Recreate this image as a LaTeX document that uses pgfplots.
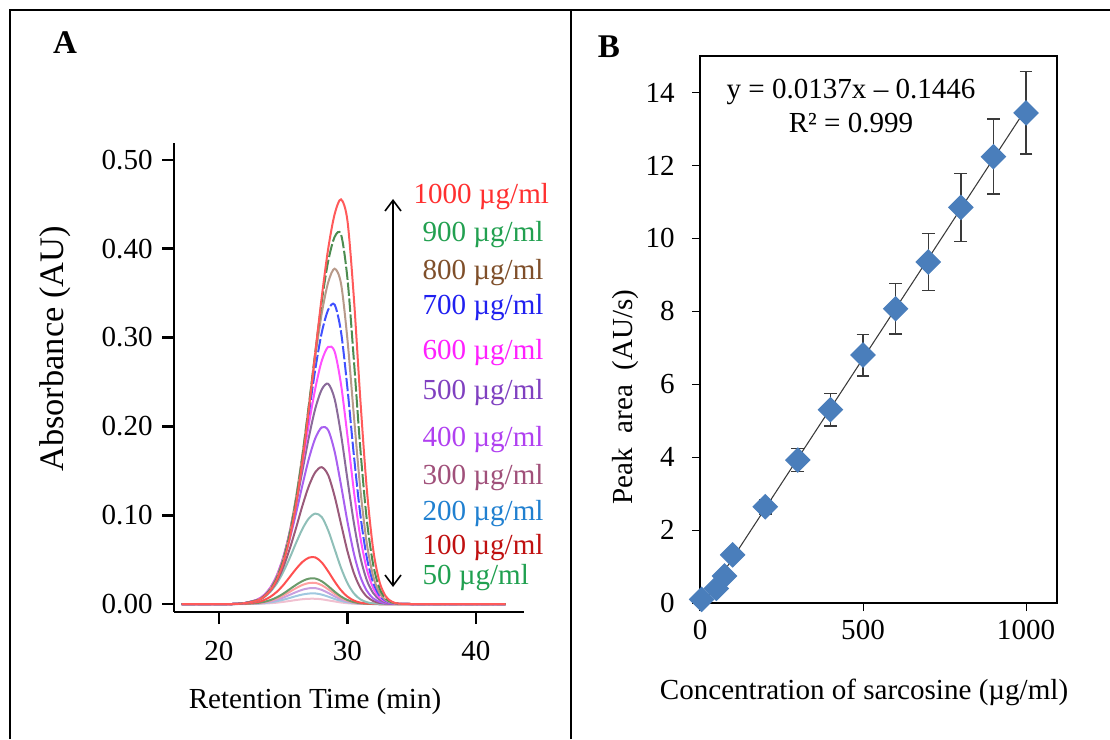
\documentclass[border=0pt]{standalone}
\usepackage{pgfplots}
\pgfplotsset{compat=1.18}
\usepackage{pgfplotstable}
\usepackage{fontspec}
\setmainfont{Liberation Serif}
\usetikzlibrary{arrows.meta}

\definecolor{cA}{HTML}{FF5A5A}
\definecolor{cB}{HTML}{4C8C50}
\definecolor{cC}{HTML}{B89A8A}
\definecolor{cD}{HTML}{4050FF}
\definecolor{cE}{HTML}{FF50FF}
\definecolor{cF}{HTML}{8A6A9A}
\definecolor{cG}{HTML}{A860F0}
\definecolor{cH}{HTML}{9A5A7A}
\definecolor{cI}{HTML}{8FBFB8}
\definecolor{cJ}{HTML}{FF5050}
\definecolor{cK}{HTML}{6A9A6A}
\definecolor{fA}{HTML}{FFA0A0}
\definecolor{fB}{HTML}{C8A0E0}
\definecolor{fC}{HTML}{A0C8E0}
\definecolor{fD}{HTML}{F0C0D0}
% label colours
\definecolor{l1000}{HTML}{FF3030}
\definecolor{l900}{HTML}{22A050}
\definecolor{l800}{HTML}{7F4F2A}
\definecolor{l700}{HTML}{2020F0}
\definecolor{l600}{HTML}{FF20FF}
\definecolor{l500}{HTML}{8040C0}
\definecolor{l400}{HTML}{B040F0}
\definecolor{l300}{HTML}{A0507A}
\definecolor{l200}{HTML}{2080D0}
\definecolor{l100}{HTML}{C01010}
\definecolor{l50}{HTML}{20A050}
\definecolor{diam}{HTML}{4A7EBB}
\definecolor{errgray}{HTML}{3A3A3A}

% chromatograms: retention time vs absorbance
\pgfplotstableread{
t    c1     c2     c3     c4     c5     c6     c7     c8     c9     c10    c11    f1     f2     f3     f4
17.1 0      0      0      0      0      0      0      0      0      0      0      0      0      0      0
19   0      0      0      0      0      0      0      0      0      0      0      0      0      0      0
21   0      0      0      0      0      0      0      0      0      0      0      0      0      0      0
22   0.0009 0.0010 0.0010 0.0010 0.0011 0.0011 0.0010 0.0009 0.0008 0.0004 0.0002 0.0002 0.0001 0.0001 0
23   0.0040 0.0044 0.0045 0.0044 0.0050 0.0050 0.0047 0.0040 0.0039 0.0022 0.0012 0.0010 0.0007 0.0005 0.0002
23.5 0.0082 0.0086 0.0090 0.0088 0.0099 0.0099 0.0094 0.0080 0.0076 0.0044 0.0024 0.0020 0.0015 0.0010 0.0005
24   0.0153 0.0163 0.0171 0.0168 0.0184 0.0184 0.0173 0.0149 0.0138 0.0081 0.0044 0.0037 0.0028 0.0018 0.0009
24.5 0.0274 0.0291 0.0305 0.0300 0.0320 0.0318 0.0300 0.0257 0.0232 0.0137 0.0075 0.0062 0.0047 0.0031 0.0015
25   0.0462 0.0490 0.0511 0.0504 0.0527 0.0519 0.0484 0.0413 0.0360 0.0212 0.0116 0.0096 0.0072 0.0048 0.0024
25.5 0.0739 0.0779 0.0809 0.0798 0.0809 0.0789 0.0728 0.0618 0.0516 0.0303 0.0166 0.0137 0.0103 0.0068 0.0034
26   0.1122 0.1173 0.1206 0.1180 0.1170 0.1126 0.1023 0.0857 0.0688 0.0395 0.0216 0.0179 0.0134 0.0089 0.0045
26.5 0.1614 0.1668 0.1690 0.1646 0.1589 0.1504 0.1341 0.1109 0.0847 0.0474 0.0259 0.0215 0.0161 0.0107 0.0054
27   0.2198 0.2242 0.2238 0.2153 0.2028 0.1880 0.1638 0.1330 0.0965 0.0522 0.0286 0.0236 0.0177 0.0118 0.0059
27.5 0.2832 0.2841 0.2790 0.2647 0.2430 0.2202 0.1867 0.1485 0.1018 0.0525 0.0287 0.0238 0.0179 0.0119 0.0059
28   0.3457 0.3406 0.3273 0.3056 0.2738 0.2415 0.1989 0.1540 0.0979 0.0468 0.0256 0.0212 0.0159 0.0106 0.0053
28.5 0.4000 0.3859 0.3621 0.3312 0.2895 0.2479 0.1957 0.1451 0.0829 0.0367 0.0201 0.0166 0.0125 0.0083 0.0041
29   0.4387 0.4132 0.3775 0.3370 0.2843 0.2309 0.1717 0.1213 0.0619 0.0254 0.0139 0.0115 0.0086 0.0057 0.0029
29.5 0.4555 0.4160 0.3606 0.3062 0.2471 0.1907 0.1338 0.0902 0.0406 0.0154 0.0084 0.0070 0.0052 0.0035 0.0017
30   0.4314 0.3662 0.2975 0.2427 0.1892 0.1401 0.0926 0.0594 0.0235 0.0083 0.0045 0.0038 0.0028 0.0019 0.0009
30.5 0.3443 0.2744 0.2117 0.1673 0.1272 0.0913 0.0569 0.0348 0.0119 0.0039 0.0021 0.0018 0.0013 0.0009 0.0004
31   0.2307 0.1751 0.1297 0.1007 0.0754 0.0528 0.0310 0.0182 0.0053 0.0016 0.0009 0.0007 0.0005 0.0004 0.0002
31.5 0.1304 0.0955 0.0688 0.0527 0.0394 0.0270 0.0150 0.0084 0.0021 0.0006 0.0003 0.0003 0.0002 0.0001 0.0001
32   0.0617 0.0444 0.0314 0.0242 0.0181 0.0124 0.0064 0.0034 0.0007 0.0002 0.0001 0.0001 0.0001 0      0
32.5 0.0246 0.0175 0.0124 0.0096 0.0073 0.0050 0.0024 0.0012 0.0002 0      0      0      0      0      0
33   0.0083 0.0059 0.0042 0.0034 0.0026 0.0018 0.0008 0.0004 0      0      0      0      0      0      0
33.5 0.0023 0.0017 0.0012 0.0010 0.0008 0.0006 0.0003 0.0001 0      0      0      0      0      0      0
34   0.0005 0.0004 0.0003 0.0003 0.0002 0.0002 0.0001 0      0      0      0      0      0      0      0
35   0      0      0      0      0      0      0      0      0      0      0      0      0      0      0
37   0      0      0      0      0      0      0      0      0      0      0      0      0      0      0
40   0      0      0      0      0      0      0      0      0      0      0      0      0      0      0
42.3 0      0      0      0      0      0      0      0      0      0      0      0      0      0      0
}\chromdata

\newcommand{\tickfont}{\fontsize{10.9}{12}\selectfont}

\begin{document}
\begin{tikzpicture}[x=0.375pt,y=0.375pt]
\path[use as bounding box] (0,0) rectangle (1110,739);
% panel frame
\draw[line width=0.75pt] (10,0) -- (10,729) -- (1110,729);
\draw[line width=0.75pt] (571,0) -- (571,729);

% ---------- panel A ----------
\begin{axis}[
    at={(65.25pt,47.625pt)}, anchor=south west,
    scale only axis, width=131.25pt, height=175.875pt,
    xmin=16.5, xmax=43.74, ymin=-0.009, ymax=0.519,
    axis x line*=bottom, axis y line*=left,
    axis line style={line width=1pt, -},
    tick align=outside, major tick length=4.5pt,
    tick style={line width=1pt, black},
    xtick={20,30,40}, ytick={0,0.1,0.2,0.3,0.4,0.5},
    /pgf/number format/assume math mode=true,
    ticklabel style={font=\tickfont},
    yticklabel style={/pgf/number format/.cd, fixed, fixed zerofill, precision=2},
    xticklabel style={yshift=-3pt},
    every axis plot/.append style={line width=0.75pt, smooth, tension=0.5, no markers},
]
\addplot[fD] table[x=t, y=f4] {\chromdata};
\addplot[fC] table[x=t, y=f3] {\chromdata};
\addplot[fB] table[x=t, y=f2] {\chromdata};
\addplot[fA] table[x=t, y=f1] {\chromdata};
\addplot[cK] table[x=t, y=c11] {\chromdata};
\addplot[cJ] table[x=t, y=c10] {\chromdata};
\addplot[cI] table[x=t, y=c9] {\chromdata};
\addplot[cH] table[x=t, y=c8] {\chromdata};
\addplot[cG] table[x=t, y=c7] {\chromdata};
\addplot[cF] table[x=t, y=c6] {\chromdata};
\addplot[cE] table[x=t, y=c5] {\chromdata};
\addplot[cD, dash pattern=on 5pt off 1pt] table[x=t, y=c4] {\chromdata};
\addplot[cC] table[x=t, y=c3] {\chromdata};
\addplot[cB, dash pattern=on 5pt off 1pt] table[x=t, y=c2] {\chromdata};
\addplot[cA] table[x=t, y=c1] {\chromdata};
\end{axis}

\node[font=\fontsize{12.4}{14}\selectfont\bfseries] at (65,696) {A};
\node[font=\fontsize{12.9}{14}\selectfont, rotate=90] at (55,390) {Absorbance (AU)};
\node[font=\tickfont] at (315,37) {Retention Time (min)};
\draw[line width=0.6pt, {Straight Barb[length=4pt,width=6pt]}-{Straight Barb[length=4pt,width=6pt]}] (393,152) -- (393,540);
\begin{scope}[every node/.style={anchor=west, inner sep=0pt, font=\tickfont}]
\node[text=l1000] at (413,542) {1000 µg/ml};
\node[text=l900]  at (422,504) {900 µg/ml};
\node[text=l800]  at (422,466) {800 µg/ml};
\node[text=l700]  at (422,431) {700 µg/ml};
\node[text=l600]  at (422,386) {600 µg/ml};
\node[text=l500]  at (422,346) {500 µg/ml};
\node[text=l400]  at (422,299) {400 µg/ml};
\node[text=l300]  at (422,261) {300 µg/ml};
\node[text=l200]  at (422,225) {200 µg/ml};
\node[text=l100]  at (422,191) {100 µg/ml};
\node[text=l50]   at (422,161) {50 µg/ml};
\end{scope}

% ---------- panel B ----------
\begin{axis}[
    at={(262.5pt,51pt)}, anchor=south west,
    scale only axis, width=133.875pt, height=205.125pt,
    xmin=0, xmax=1095, ymin=0, ymax=15,
    axis line style={line width=1pt},
    tick align=outside, tick pos=left, major tick length=3pt,
    tick style={line width=0.4pt, black},
    xtick={0,500,1000}, ytick={0,2,4,6,8,10,12,14},
    /pgf/number format/assume math mode=true,
    /pgf/number format/1000 sep={},
    ticklabel style={font=\tickfont},
    yticklabel style={xshift=-3pt},
    clip=false,
]
\addplot[only marks, mark=square*, mark size=3.2pt,
    mark options={rotate=45, fill=diam, draw=diam},
    error bars/.cd, y dir=both, y explicit,
    error mark=-,
    error bar style={line width=0.55pt, color=errgray},
    error mark options={rotate=90, line width=0.55pt, mark size=2.4pt, color=errgray}]
coordinates {
    (5,0.10) +- (0,0.05)
    (50,0.40) +- (0,0.06)
    (75,0.74) +- (0,0.08)
    (100,1.32) +- (0,0.10)
    (200,2.64) +- (0,0.20)
    (300,3.92) +- (0,0.32)
    (400,5.30) +- (0,0.44)
    (500,6.80) +- (0,0.57)
    (600,8.07) +- (0,0.69)
    (700,9.35) +- (0,0.78)
    (800,10.85) +- (0,0.93)
    (900,12.24) +- (0,1.03)
    (1000,13.44) +- (0,1.13)
};
% linear fit y = 0.0137x - 0.1446
\addplot[line width=0.4pt, color=errgray] coordinates {(12,0.0198) (1000,13.5554)};
\end{axis}

\node[font=\fontsize{12.4}{14}\selectfont\bfseries] at (609,692) {B};
\node[font=\tickfont] at (851,647) {y = 0.0137x – 0.1446};
\node[font=\tickfont] at (851,616) {R² = 0.999};
\node[font=\tickfont] at (864,47) {Concentration of sarcosine (µg/ml)};
\node[font=\tickfont, rotate=90] at (625,342) {Peak\ \ area\ \ (AU/s)};
\end{tikzpicture}
\end{document}
